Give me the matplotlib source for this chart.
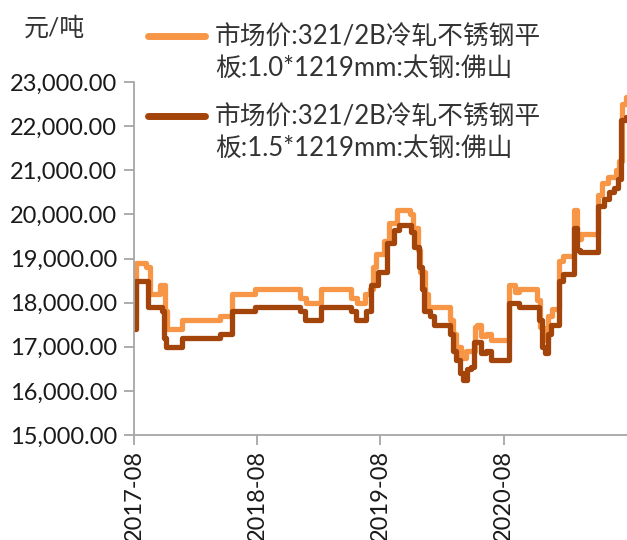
import pandas as pd
import matplotlib.pyplot as plt
import matplotlib.dates as mdates
from matplotlib.lines import Line2D
from matplotlib.ticker import FuncFormatter

plt.rcParams['font.family'] = ['Lato', 'Noto Sans CJK SC', 'DejaVu Sans']

# 321/2B cold-rolled stainless sheet, Taigang, Foshan market price (yuan/ton)
# values listed at the dates where the weekly quote changes
dates_10 = ['2017-08-01', '2017-08-08', '2017-09-06', '2017-09-18', '2017-10-17',
            '2017-10-31', '2017-11-07', '2017-12-21', '2018-04-12', '2018-05-19',
            '2018-07-25', '2018-12-07', '2018-12-25', '2019-02-07', '2019-05-07',
            '2019-05-25', '2019-06-18', '2019-07-01', '2019-07-10', '2019-07-20',
            '2019-08-13', '2019-08-28', '2019-09-18', '2019-10-27', '2019-11-06',
            '2019-11-20', '2019-11-28', '2019-12-10', '2019-12-20', '2020-02-23',
            '2020-03-02', '2020-03-13', '2020-03-28', '2020-04-10', '2020-05-07',
            '2020-05-14', '2020-05-24', '2020-06-08', '2020-06-25', '2020-08-17',
            '2020-09-03', '2020-09-14', '2020-11-07', '2020-11-16', '2020-11-25',
            '2020-12-10', '2020-12-22', '2021-01-12', '2021-01-22', '2021-02-25',
            '2021-03-07', '2021-03-19', '2021-05-06', '2021-05-20', '2021-06-05',
            '2021-06-28', '2021-07-08', '2021-07-17', '2021-07-28', '2021-08-01']
price_10 = [17700, 18900, 18800, 18200, 18400,
            17800, 17400, 17600, 17700, 18200,
            18300, 18100, 18000, 18300, 18100,
            18000, 18200, 18300, 18800, 19100,
            19400, 19800, 20100, 20000, 19700,
            19200, 18700, 18200, 17900, 17600,
            17300, 17000, 16750, 16900, 17450,
            17500, 17250, 17300, 17150, 18400,
            18250, 18300, 18050, 17450, 17150,
            17700, 17850, 18950, 19050, 20100,
            19450, 19550, 20450, 20700, 20850,
            21000, 21200, 22500, 22650, 22650]

dates_15 = ['2017-08-01', '2017-08-08', '2017-09-12', '2017-10-22', '2017-10-29',
            '2017-11-05', '2017-12-21', '2018-04-12', '2018-05-19', '2018-07-25',
            '2018-12-07', '2018-12-22', '2019-02-07', '2019-05-07', '2019-05-22',
            '2019-06-20', '2019-07-05', '2019-07-25', '2019-08-20', '2019-09-10',
            '2019-09-24', '2019-10-30', '2019-11-10', '2019-11-24', '2019-12-02',
            '2019-12-08', '2019-12-25', '2020-01-08', '2020-02-22', '2020-03-02',
            '2020-03-12', '2020-03-25', '2020-04-03', '2020-04-15', '2020-04-26',
            '2020-05-06', '2020-05-25', '2020-06-10', '2020-06-24', '2020-08-17',
            '2020-09-14', '2020-11-14', '2020-11-22', '2020-12-01', '2020-12-10',
            '2020-12-20', '2021-01-12', '2021-01-22', '2021-02-25', '2021-03-06',
            '2021-03-16', '2021-05-08', '2021-05-24', '2021-06-08', '2021-06-22',
            '2021-07-05', '2021-07-14', '2021-07-28', '2021-08-01']
price_15 = [17400, 18500, 17900, 17800, 17200,
            17000, 17200, 17300, 17800, 17900,
            17800, 17600, 17900, 17800, 17600,
            17800, 18400, 18700, 19350, 19650,
            19750, 19600, 19250, 18800, 18300,
            17800, 17700, 17500, 17300, 16900,
            16700, 16400, 16250, 16500, 16550,
            17100, 16850, 16900, 16700, 18000,
            17900, 17600, 17000, 16850, 17300,
            17500, 18500, 18650, 19700, 19200,
            19150, 20200, 20350, 20500, 20600,
            20800, 22150, 22200, 22200]

labels = ['市场价:321/2B冷轧不锈钢平\n板:1.0*1219mm:太钢:佛山',
          '市场价:321/2B冷轧不锈钢平\n板:1.5*1219mm:太钢:佛山']
colors = ['#F79646', '#A3440A']
xtick_dates = ['2017-08-01', '2018-08-01', '2019-08-01', '2020-08-01']
yticks = list(range(15000, 23001, 1000))

W, H = 627, 540
fig = plt.figure(figsize=(W / 100, H / 100), dpi=100)
ax = fig.add_axes([134 / W, 105 / H, 1 - 134 / W, 353 / H])

ax.plot(pd.to_datetime(dates_10), price_10, drawstyle='steps-post',
        color=colors[0], lw=3.8, solid_joinstyle='round')
ax.plot(pd.to_datetime(dates_15), price_15, drawstyle='steps-post',
        color=colors[1], lw=3.8, solid_joinstyle='round')

ax.set_ylim(15000, 23000)
ax.set_xlim(pd.Timestamp('2017-08-01'), pd.Timestamp('2021-08-01'))
ax.set_yticks(yticks)
ax.yaxis.set_major_formatter(FuncFormatter(lambda v, p: f'{v:,.2f}'))
ax.set_xticks(pd.to_datetime(xtick_dates))
ax.xaxis.set_major_formatter(mdates.DateFormatter('%Y-%m'))
plt.setp(ax.get_xticklabels(), rotation=90)

for side in ['top', 'right']:
    ax.spines[side].set_visible(False)
for side in ['left', 'bottom']:
    ax.spines[side].set_color('#A6A6A6')
    ax.spines[side].set_linewidth(1.3)
ax.tick_params(axis='both', colors='#A6A6A6', labelcolor='#1a1a1a',
               length=7, width=1.3, labelsize=17)
ax.tick_params(axis='y', pad=5)
ax.tick_params(axis='x', pad=4)

fig.text(24 / W, 1 - 28 / H, '元/吨', fontsize=18, color='#333333',
         va='center', ha='left')

# legend: swatch level with the first text line of each entry
for i, (lab, col) in enumerate(zip(labels, colors)):
    y = 1 - (36 + 80 * i) / H
    fig.add_artist(Line2D([148 / W, 205 / W], [y, y], color=col, lw=5,
                          solid_capstyle='round', transform=fig.transFigure))
    fig.text(215 / W, 1 - (25 + 80 * i) / H, lab, fontsize=18.5,
             color='#333333', va='top', ha='left', linespacing=1.3)

fig.savefig('out.png', dpi=100)
